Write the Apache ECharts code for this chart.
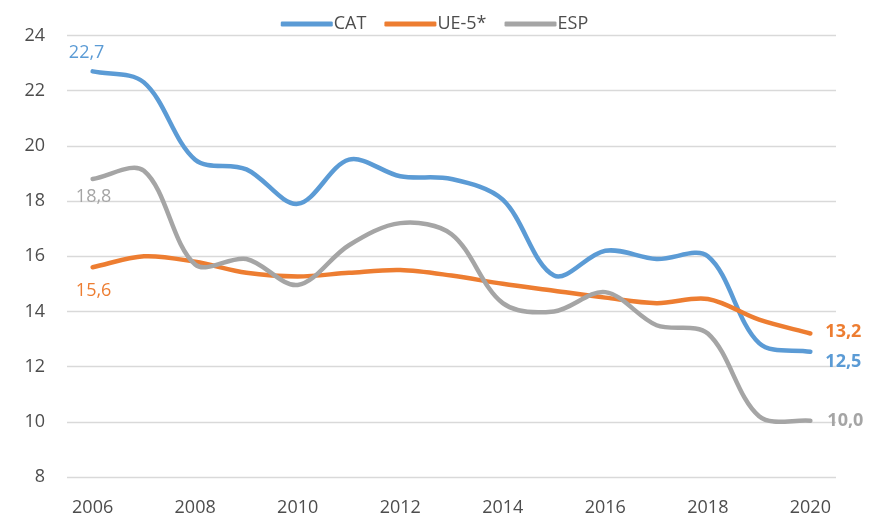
<!DOCTYPE html>
<html><head><meta charset="utf-8">
<script src="https://cdn.jsdelivr.net/npm/echarts@6/dist/echarts.min.js"></script>
<style>html,body{margin:0;padding:0;background:#fff}#c{width:869px;height:517px}</style>
</head><body><div id="c"></div>
<script>
const years = ['2006','2007','2008','2009','2010','2011','2012','2013','2014','2015','2016','2017','2018','2019','2020'];
const cat = [22.7,22.3,19.5,19.15,17.9,19.5,18.9,18.8,18.05,15.3,16.2,15.9,16.0,12.85,12.54];
const ue5 = [15.6,16.0,15.8,15.4,15.27,15.4,15.5,15.3,15.0,14.75,14.5,14.3,14.45,13.7,13.2];
const esp = [18.8,19.1,15.7,15.9,14.96,16.4,17.2,16.8,14.3,14.0,14.7,13.5,13.2,10.2,10.04];
const yTicks = {min: 8, max: 24, interval: 2};

const FONT = 'Open Sans';
const TXT = '#4D4D4D';
const C1 = '#5B9BD5', C2 = '#ED7D31', C3 = '#A5A5A5';
const fmt = v => v.toFixed(1).replace('.', ',');

// Excel-like smoothed line through the data points (length-weighted Bezier tangents); positions from the axes via api.coord
function makeSeries(name, arr, color, z, firstLbl, lastLbl) {
  return {
    name: name, type: 'custom', z: z,
    itemStyle: {color: color},
    data: arr.map((v, i) => [i, v]),
    renderItem: function (params, api) {
      const i = params.dataIndex;
      const children = [];
      if (i === 0) {
        const P = arr.map((v, k) => api.coord([k, v]));
        const n = P.length;
        const dist = (a, b) => Math.hypot(a[0] - b[0], a[1] - b[1]);
        const cin = [], cout = [];
        for (let k = 0; k < n; k++) {
          const pp = P[Math.max(k - 1, 0)], pn = P[Math.min(k + 1, n - 1)], p = P[k];
          const dp = dist(p, pp), dn = dist(p, pn);
          const tx = pn[0] - pp[0], ty = pn[1] - pp[1];
          const s = dp + dn;
          const rn = dn / s, rp = dp / s;
          cout[k] = [p[0] + tx * rn / 3, p[1] + ty * rn / 3];
          cin[k] = [p[0] - tx * rp / 3, p[1] - ty * rp / 3];
        }
        let d = 'M' + P[0][0] + ' ' + P[0][1];
        for (let k = 0; k < n - 1; k++) {
          d += ' C' + cout[k][0] + ' ' + cout[k][1] + ' ' + cin[k + 1][0] + ' ' + cin[k + 1][1] + ' ' + P[k + 1][0] + ' ' + P[k + 1][1];
        }
        children.push({type: 'path', shape: {pathData: d},
          style: {fill: null, stroke: color, lineWidth: 4.5, lineCap: 'round', lineJoin: 'round'}});
        if (firstLbl) {
          const p = P[0];
          children.push({type: 'text', x: p[0] + firstLbl[0], y: p[1] + firstLbl[1],
            style: {text: fmt(arr[0]), fill: color, font: '18px "' + FONT + '"', align: 'center', verticalAlign: 'middle'}});
        }
      }
      if (i === arr.length - 1 && lastLbl) {
        const p = api.coord([i, arr[i]]);
        children.push({type: 'text', x: p[0] + lastLbl[0], y: p[1] + lastLbl[1],
          style: {text: fmt(arr[i]), fill: color, font: 'bold 18px "' + FONT + '"', align: 'left', verticalAlign: 'middle'}});
      }
      return {type: 'group', children: children};
    }
  };
}

const chart = echarts.init(document.getElementById('c'));
chart.setOption({
  animation: false,
  legend: {
    top: 10, left: 'center', itemWidth: 52, itemHeight: 5, itemGap: 18,
    icon: 'roundRect',
    textStyle: {color: TXT, fontSize: 18, fontFamily: FONT, padding: [0, 0, 0, -4]},
    data: [{name: 'CAT', itemStyle: {color: C1}}, {name: 'UE-5*', itemStyle: {color: C2}}, {name: 'ESP', itemStyle: {color: C3}}]
  },
  grid: {left: 67, right: 33, top: 35.5, bottom: 39},
  xAxis: {
    type: 'category', data: years, boundaryGap: true,
    axisLine: {show: false}, axisTick: {show: false},
    axisLabel: {interval: 1, color: TXT, fontSize: 18, fontFamily: FONT, margin: 22}
  },
  yAxis: {
    type: 'value', min: yTicks.min, max: yTicks.max, interval: yTicks.interval,
    axisLine: {show: false}, axisTick: {show: false},
    axisLabel: {color: TXT, fontSize: 18, fontFamily: FONT, margin: 22},
    splitLine: {lineStyle: {color: '#D9D9D9', width: 1.3}}
  },
  series: [
    makeSeries('CAT', cat, C1, 1, [-6, -18], [15, 10]),
    makeSeries('UE-5*', ue5, C2, 2, [1, 24], [15, -2]),
    makeSeries('ESP', esp, C3, 3, [1, 18], [17, 0])
  ]
});
</script></body></html>
